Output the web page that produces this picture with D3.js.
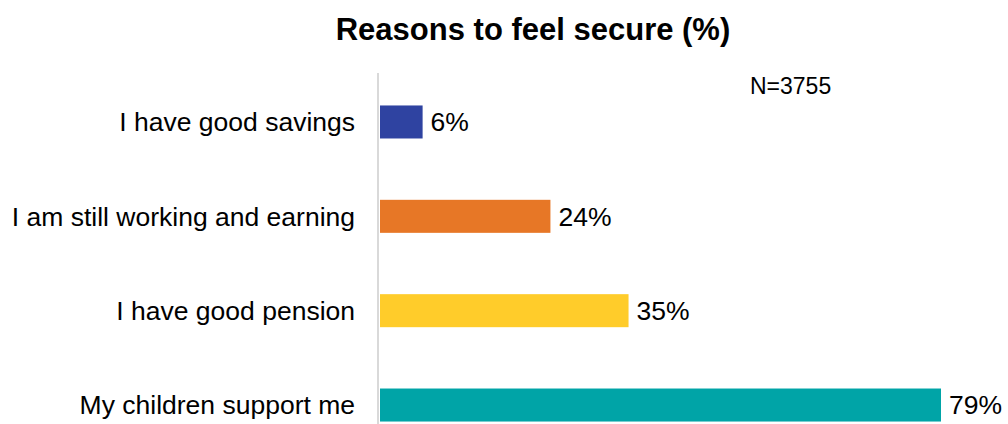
<!DOCTYPE html>
<html>
<head>
<meta charset="utf-8">
<script src="https://cdn.jsdelivr.net/npm/d3@7"></script>
<style>
  body { margin: 0; background: #fff; }
  svg text { font-family: "Liberation Sans", Arial, sans-serif; fill: #000; }
</style>
</head>
<body>
<div id="chart"></div>
<script>
const categories = ['I have good savings', 'I am still working and earning', 'I have good pension', 'My children support me'];
const values = [6, 24, 35, 79];
const colors = ['#2f43a1', '#e77726', '#ffcc2a', '#00a4a7'];
const chartTitle = 'Reasons to feel secure (%)';
const sampleNote = 'N=3755';

const width = 1008, height = 424;

let svg = d3.select('#chart')
  .append('svg')
    .attr('width', width)
    .attr('height', height);

// Scales
let x = d3.scaleLinear()
  .domain([0, 79])
  .range([380, 941]);

let y = d3.scaleBand()
  .domain(categories)
  .range([74.8, 452.2])
  .paddingInner(0.65)
  .paddingOuter(0.325);

// Title
svg.append('text')
  .attr('x', 533)
  .attr('y', 40)
  .attr('text-anchor', 'middle')
  .style('font-size', '31px')
  .style('font-weight', 'bold')
  .text(chartTitle);

// Vertical axis line
svg.append('line')
  .attr('x1', x(0) - 2).attr('x2', x(0) - 2)
  .attr('y1', 73).attr('y2', height)
  .attr('stroke', '#d9d9d9')
  .attr('stroke-width', 2);

// Bars
svg.selectAll('rect.bar')
  .data(values)
  .enter().append('rect')
    .attr('class', 'bar')
    .attr('x', x(0))
    .attr('y', (d, i) => y(categories[i]))
    .attr('width', d => x(d) - x(0))
    .attr('height', y.bandwidth())
    .attr('fill', (d, i) => colors[i]);

// Category labels
svg.selectAll('text.cat')
  .data(categories)
  .enter().append('text')
    .attr('class', 'cat')
    .attr('x', 355)
    .attr('y', d => y(d) + y.bandwidth() / 2)
    .attr('dy', '0.35em')
    .attr('text-anchor', 'end')
    .style('font-size', '26.5px')
    .text(d => d);

// Value labels
svg.selectAll('text.val')
  .data(values)
  .enter().append('text')
    .attr('class', 'val')
    .attr('x', d => x(d) + 8)
    .attr('y', (d, i) => y(categories[i]) + y.bandwidth() / 2)
    .attr('dy', '0.35em')
    .style('font-size', '26.5px')
    .text(d => d + '%');

// Sample size
svg.append('text')
  .attr('x', 750)
  .attr('y', 94)
  .style('font-size', '23px')
  .text(sampleNote);
</script>
</body>
</html>
